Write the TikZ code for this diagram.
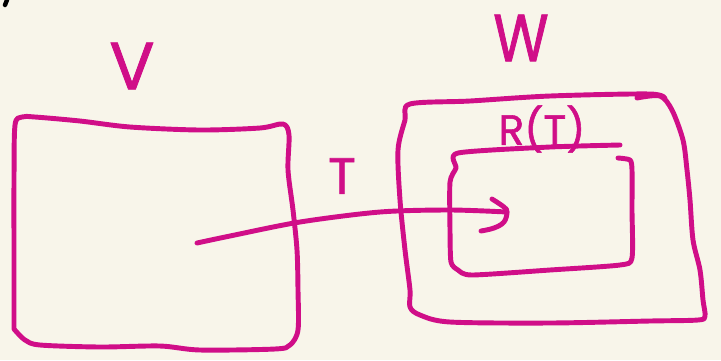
\documentclass[tikz,border=0pt]{standalone}
\usepackage{fontspec}
\setmainfont{Poppins}
\usepackage{xcolor}
\usepackage{tikz}
\usetikzlibrary{arrows.meta, positioning, calc}

\definecolor{paper}{RGB}{248,245,234}
\definecolor{ink}{RGB}{208,14,136}

\begin{document}
\begin{tikzpicture}[
  x=0.02cm, y=-0.02cm,
  pen/.style={draw=ink, line width=2.8pt, line cap=round, line join=round},
  lbl/.style={text=ink, inner sep=0pt, font=#1\addfontfeature{FakeBold=1.3}},
  lbl/.default={\fontsize{38}{38}\selectfont}
]
% background
\fill[paper] (0,0) rectangle (721,360);
\useasboundingbox (0,0) rectangle (721,360);
\draw[black, line width=2.5pt, line cap=round] (7,0) -- (5,5);

% box V
\draw[pen] plot[smooth, tension=0.5] coordinates {
  (14,329) (14,260) (14,180) (15,125) (22,117) (35,117) (80,121) (130,127)
  (200,130) (260,128) (283,124) (289,135) (288,170) (293,210) (297,250)
  (298,290) (298,330) (290,345) (275,349) (200,350) (160,346) (100,347)
  (40,345) (25,340) (14,329)};

% box W
\draw[pen] plot[smooth, tension=0.5] coordinates {
  (637,98) (660,96) (672,110) (683,140) (687,170) (690,200) (693,240)
  (700,270) (703,300) (705,316) (698,320) (650,321) (550,323) (450,322)
  (420,315) (410,307) (410,290) (405,250) (400,200) (398,150) (405,120)
  (410,104) (470,101) (550,96) (650,94) (665,99)};

% box R(T)
\draw[pen] plot[smooth, tension=0.4] coordinates {
  (620,145) (550,147) (458,153) (456,168) (450,182) (450,230) (451,262)
  (458,270) (472,275) (550,270) (620,265) (632,258) (632,210) (632,170)
  (630,160) (618,158)};

% labels
\node[lbl] (v) at (132,66) {V};
\node[lbl, xscale=0.85] (w) at (521,38) {W};
\node[lbl={\fontsize{29}{29}\selectfont}] (t) at (342,176) {T};
\node[lbl={\fontsize{24}{24}\selectfont}] (rt) at (542,129) {R(T)};

% map T
\coordinate (src) at (197,243);
\coordinate (dst) at (507,212);
\draw[pen] plot[smooth, tension=0.5] coordinates {
  (src) (230,236) (300,222) (380,212) (450,210) (dst)};
\draw[pen] plot[smooth, tension=0.6] coordinates {
  (492,199) (504,207) (dst) (504,222) (494,228) (481,231)};
\end{tikzpicture}
\end{document}
